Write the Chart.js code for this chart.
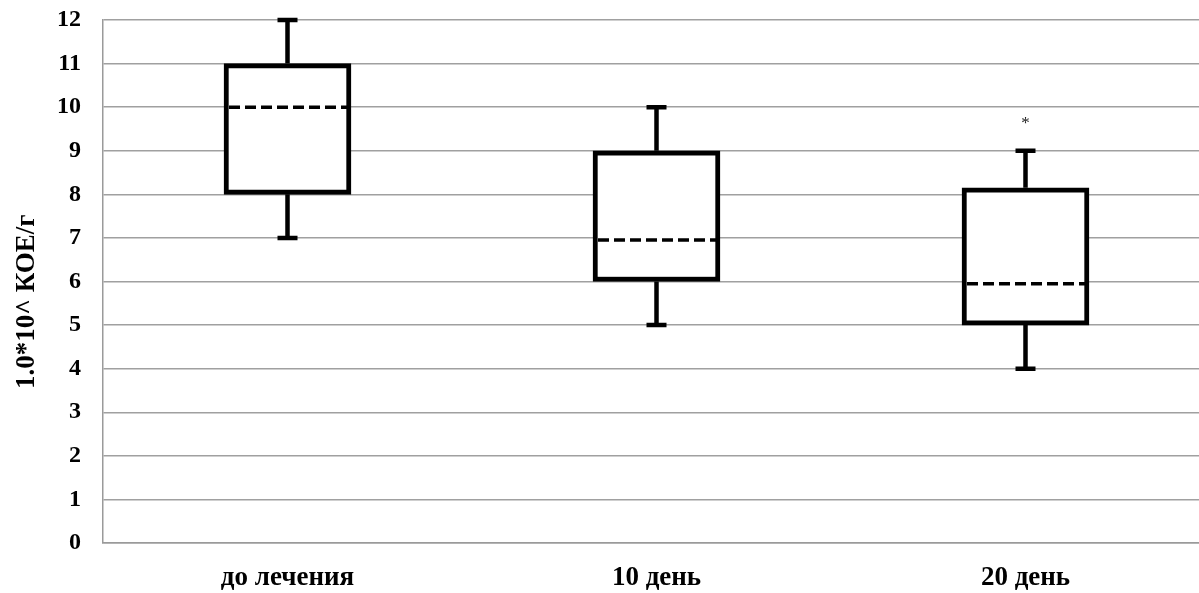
<!DOCTYPE html>
<html>
<head>
<meta charset="utf-8">
<script src="https://cdn.jsdelivr.net/npm/chart.js@4"></script>
<style>
  html, body { margin: 0; padding: 0; background: #fff; overflow: hidden; }
  #wrap { width: 1210px; height: 593px; }
</style>
</head>
<body>
<div id="wrap"><canvas id="chart"></canvas></div>
<script>
// данные по группам
const categories = ['до лечения', '10 день', '20 день'];
const minVals = [7, 5, 4];
const q1Vals = [8, 6, 5];
const medianVals = [10, 6.95, 5.95];
const q3Vals = [11, 9, 8.15];
const maxVals = [12, 10, 9];
const marks = ['', '', '*'];
const yTicks = [0, 1, 2, 3, 4, 5, 6, 7, 8, 9, 10, 11, 12];

const FONT = '"Liberation Serif", "Times New Roman", serif';

// усы, медиана и звездочка поверх ящиков
const boxExtras = {
  id: 'boxExtras',
  beforeDatasetsDraw(chart) {
    const { ctx, scales: { x, y } } = chart;
    ctx.save();
    ctx.strokeStyle = '#000';
    ctx.lineWidth = 4.5;
    categories.forEach((c, i) => {
      const cx = x.getPixelForValue(i);
      const cap = 10;
      [[q3Vals[i], maxVals[i]], [q1Vals[i], minVals[i]]].forEach(([from, to]) => {
        ctx.beginPath();
        ctx.moveTo(cx, y.getPixelForValue(from));
        ctx.lineTo(cx, y.getPixelForValue(to));
        ctx.moveTo(cx - cap, y.getPixelForValue(to));
        ctx.lineTo(cx + cap, y.getPixelForValue(to));
        ctx.stroke();
      });
    });
    ctx.restore();
  },
  afterDatasetsDraw(chart) {
    const { ctx, scales: { x, y } } = chart;
    const meta = chart.getDatasetMeta(0);
    ctx.save();
    categories.forEach((c, i) => {
      const bar = meta.data[i];
      const half = bar.width / 2;
      const cx = bar.x;
      const my = y.getPixelForValue(medianVals[i]);
      ctx.strokeStyle = '#000';
      ctx.lineWidth = 3.5;
      ctx.setLineDash([11, 5]);
      ctx.beginPath();
      ctx.moveTo(cx - half + 5, my);
      ctx.lineTo(cx + half - 3, my);
      ctx.stroke();
      ctx.setLineDash([]);
      if (marks[i]) {
        ctx.fillStyle = '#222';
        ctx.font = '17px ' + FONT;
        ctx.textAlign = 'center';
        ctx.textBaseline = 'middle';
        ctx.fillText(marks[i], cx, y.getPixelForValue(maxVals[i] + 0.62));
      }
    });
    ctx.restore();
  }
};

new Chart(document.getElementById('chart'), {
  type: 'bar',
  data: {
    labels: categories,
    datasets: [{
      data: categories.map((c, i) => [q1Vals[i], q3Vals[i]]),
      backgroundColor: '#fff',
      borderColor: '#000',
      borderWidth: 5,
      borderSkipped: false,
      barThickness: 127
    }]
  },
  options: {
    responsive: true,
    maintainAspectRatio: false,
    animation: false,
    layout: { padding: { top: 20, right: 0, left: 0, bottom: 0 } },
    plugins: {
      legend: { display: false },
      tooltip: { enabled: false }
    },
    scales: {
      x: {
        grid: { display: false },
        border: { color: '#9a9a9a', width: 1.5 },
        ticks: {
          color: '#000',
          padding: 11,
          font: { family: FONT, size: 27, weight: 'bold' }
        },
        afterFit: s => { s.height = 50; s.paddingLeft = 0; s.paddingRight = 0; }
      },
      y: {
        min: 0,
        max: 12,
        afterBuildTicks: s => { s.ticks = yTicks.map(v => ({ value: v })); },
        grid: { color: '#a0a0a0', lineWidth: 1.5, drawTicks: false },
        border: { color: '#9a9a9a', width: 1.5 },
        ticks: {
          color: '#000',
          padding: 22,
          font: { family: FONT, size: 24, weight: 'bold' }
        },
        title: {
          display: true,
          text: '1.0*10^ КОЕ/г\u00a0\u00a0\u00a0\u00a0\u00a0\u00a0',
          color: '#000',
          padding: { top: 11, bottom: 0 },
          font: { family: FONT, size: 27, weight: 'bold' }
        },
        afterFit: s => { s.width = 103; s.paddingTop = 0; s.paddingBottom = 0; }
      }
    }
  },
  plugins: [boxExtras]
});
</script>
</body>
</html>
